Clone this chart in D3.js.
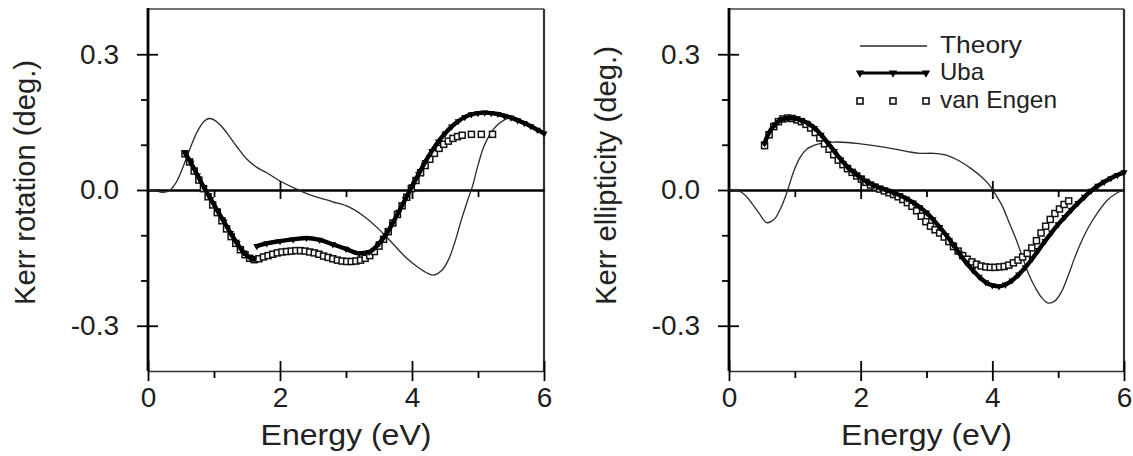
<!DOCTYPE html>
<html lang="en">
<head>
<meta charset="UTF-8">
<title>Kerr spectra</title>
<style>
body{margin:0;background:#fff;}
text{font-family:"Liberation Sans",Arial,Helvetica,sans-serif;}
</style>
</head>
<body>
<script src="https://d3js.org/d3.v7.min.js"></script>
<script>
// ---- data (energy in eV, angle in deg.) ----
// left panel: Kerr rotation
var theoryRotE = [0,0.1,0.22,0.32,0.42,0.5,0.58,0.66,0.75,0.85,0.93,1.0,1.1,1.2,1.35,1.5,1.65,1.8,2.0,2.25,2.5,2.8,3.05,3.25,3.5,3.7,3.9,4.1,4.25,4.33,4.45,4.55,4.65,4.75,4.85,4.92,5.0,5.1,5.25,5.4,5.55,5.7,5.85,6.0];
var theoryRot  = [0,-0.001,-0.005,-0.002,0.015,0.04,0.07,0.1,0.13,0.152,0.158,0.155,0.143,0.125,0.095,0.068,0.05,0.038,0.02,0.002,-0.013,-0.026,-0.038,-0.056,-0.087,-0.117,-0.148,-0.172,-0.185,-0.188,-0.178,-0.155,-0.115,-0.065,-0.02,0.01,0.055,0.1,0.137,0.155,0.16,0.15,0.14,0.127];

// Uba: two measured ranges (null = gap)
var ubaRotE = [0.56,0.65,0.75,0.85,0.95,1.05,1.15,1.25,1.35,1.45,1.55,1.6,1.62,1.65,1.8,2.0,2.2,2.4,2.6,2.8,3.0,3.2,3.35,3.5,3.6,3.7,3.8,3.9,4.0,4.1,4.2,4.3,4.4,4.5,4.6,4.7,4.8,4.9,5.0,5.1,5.2,5.3,5.4,5.5,5.6,5.7,5.8,5.9,6.0];
var ubaRot  = [0.082,0.06,0.032,0.005,-0.02,-0.045,-0.07,-0.095,-0.118,-0.138,-0.15,-0.153,null,-0.124,-0.118,-0.113,-0.109,-0.106,-0.11,-0.12,-0.13,-0.14,-0.137,-0.118,-0.1,-0.075,-0.048,-0.02,0.008,0.035,0.062,0.086,0.107,0.125,0.14,0.152,0.161,0.167,0.17,0.171,0.17,0.168,0.164,0.16,0.154,0.148,0.141,0.133,0.125];

var vanRotE = [0.56,0.63,0.70,0.77,0.84,0.91,0.98,1.05,1.12,1.19,1.26,1.33,1.40,1.47,1.54,1.61,1.68,1.75,1.82,1.89,1.96,2.03,2.10,2.17,2.24,2.31,2.38,2.45,2.52,2.59,2.66,2.73,2.80,2.87,2.94,3.01,3.08,3.15,3.22,3.29,3.36,3.43,3.50,3.57,3.64,3.71,3.78,3.85,3.92,3.99,4.06,4.13,4.20,4.27,4.34,4.41,4.48,4.55,4.62,4.69,4.76,4.90,5.05,5.22];
var vanRot  = [0.08,0.062,0.042,0.022,0.003,-0.015,-0.033,-0.05,-0.068,-0.086,-0.103,-0.118,-0.132,-0.143,-0.151,-0.154,-0.152,-0.148,-0.145,-0.142,-0.139,-0.137,-0.136,-0.135,-0.134,-0.134,-0.135,-0.137,-0.139,-0.142,-0.146,-0.149,-0.152,-0.155,-0.157,-0.158,-0.158,-0.157,-0.155,-0.151,-0.145,-0.136,-0.124,-0.109,-0.092,-0.073,-0.054,-0.035,-0.016,0.003,0.021,0.038,0.054,0.068,0.081,0.092,0.101,0.108,0.114,0.118,0.121,0.123,0.123,0.123];

// right panel: Kerr ellipticity
var theoryEllE = [0,0.15,0.25,0.35,0.45,0.57,0.68,0.78,0.88,0.98,1.08,1.18,1.3,1.45,1.6,1.8,2.0,2.25,2.5,2.75,2.9,3.1,3.3,3.5,3.7,3.85,3.95,4.05,4.15,4.25,4.35,4.45,4.55,4.65,4.75,4.85,4.95,5.05,5.15,5.25,5.35,5.45,5.6,5.75,5.9,6.0];
var theoryEll  = [0,-0.002,-0.012,-0.03,-0.05,-0.072,-0.066,-0.042,-0.005,0.04,0.072,0.09,0.099,0.104,0.106,0.105,0.102,0.097,0.091,0.084,0.081,0.081,0.077,0.064,0.045,0.027,0.012,-0.01,-0.035,-0.07,-0.105,-0.145,-0.185,-0.215,-0.238,-0.25,-0.245,-0.225,-0.19,-0.15,-0.115,-0.085,-0.05,-0.022,-0.006,0];

var ubaEllE = [0.54,0.6,0.7,0.8,0.9,1.0,1.1,1.2,1.3,1.4,1.5,1.6,1.7,1.8,1.9,2.0,2.1,2.2,2.3,2.4,2.5,2.6,2.7,2.8,2.9,3.0,3.1,3.2,3.3,3.4,3.5,3.6,3.7,3.8,3.9,4.0,4.1,4.2,4.3,4.4,4.5,4.6,4.7,4.8,4.9,5.0,5.1,5.2,5.3,5.4,5.5,5.6,5.7,5.8,5.9,6.0];
var ubaEll  = [0.103,0.125,0.145,0.156,0.159,0.158,0.154,0.147,0.137,0.122,0.104,0.086,0.067,0.051,0.038,0.027,0.017,0.01,0.004,-0.001,-0.006,-0.012,-0.019,-0.028,-0.038,-0.05,-0.065,-0.082,-0.1,-0.12,-0.14,-0.16,-0.177,-0.192,-0.204,-0.211,-0.213,-0.209,-0.2,-0.187,-0.171,-0.153,-0.133,-0.113,-0.094,-0.076,-0.06,-0.044,-0.029,-0.015,-0.002,0.009,0.018,0.026,0.033,0.039];

var vanEllE = [0.54,0.61,0.68,0.75,0.82,0.89,0.96,1.03,1.10,1.17,1.24,1.31,1.38,1.45,1.52,1.59,1.66,1.73,1.80,1.87,1.94,2.01,2.08,2.15,2.22,2.29,2.36,2.43,2.50,2.57,2.64,2.71,2.78,2.85,2.92,2.99,3.06,3.13,3.20,3.27,3.34,3.41,3.48,3.55,3.62,3.69,3.76,3.83,3.90,3.97,4.04,4.11,4.18,4.25,4.32,4.39,4.46,4.53,4.60,4.67,4.74,4.81,4.88,4.95,5.02,5.09,5.16];
var vanEll  = [0.098,0.122,0.14,0.151,0.157,0.159,0.158,0.155,0.151,0.145,0.137,0.127,0.115,0.102,0.09,0.078,0.066,0.056,0.047,0.039,0.031,0.024,0.017,0.011,0.006,0.002,-0.002,-0.006,-0.01,-0.015,-0.021,-0.028,-0.036,-0.046,-0.058,-0.07,-0.08,-0.088,-0.095,-0.104,-0.114,-0.125,-0.135,-0.145,-0.153,-0.159,-0.164,-0.168,-0.17,-0.171,-0.171,-0.17,-0.169,-0.166,-0.161,-0.155,-0.148,-0.14,-0.128,-0.112,-0.095,-0.08,-0.065,-0.052,-0.042,-0.032,-0.024];

var xMajor = [0,2,4,6];
var xMinor = [1,3,5];
var yMajor = [-0.3,0,0.3];
var yMinor = [-0.2,-0.1,0.1,0.2];
var seriesNames = ["Theory","Uba","van Engen"];

var W = 1133, H = 456;
var top0 = 9, bottom0 = 371;
var svg = d3.select("body").append("svg").attr("width",W).attr("height",H);

function zip(xs, ys){
	var out = [];
	for(var i=0;i<xs.length;i++) out.push([xs[i], ys[i]]);
	return out;
}

function drawPanel(left, right, yTitle, yTitleLen, th, ub, va){
	var x = d3.scaleLinear().domain([0,6]).range([left,right]);
	var y = d3.scaleLinear().domain([-0.4,0.4]).range([bottom0,top0]);
	var g = svg.append("g");

	// frame (top / right lighter than the left axis)
	g.append("line").attr("x1",left).attr("x2",right).attr("y1",top0).attr("y2",top0).attr("stroke","#444").attr("stroke-width",1.6);
	g.append("line").attr("x1",right).attr("x2",right).attr("y1",top0).attr("y2",bottom0).attr("stroke","#333").attr("stroke-width",2.2);

	// y axis: labels + outward major, inward major, outward minor
	var ya = g.append("g").attr("transform","translate("+left+",0)")
		.call(d3.axisLeft(y).tickValues(yMajor).tickSize(11).tickSizeOuter(0).tickPadding(18)
			.tickFormat(function(d){return d3.format(".1f")(d).replace("−","-");}));
	ya.select(".domain").remove();
	ya.selectAll("text").attr("font-size",28).attr("fill","#1e1e1e").attr("font-family",null);
	var yi = g.append("g").attr("transform","translate("+left+",0)")
		.call(d3.axisRight(y).tickValues(yMajor).tickSize(10).tickFormat(""));
	yi.select(".domain").remove();
	var ym = g.append("g").attr("transform","translate("+left+",0)")
		.call(d3.axisLeft(y).tickValues(yMinor).tickSize(7).tickFormat(""));
	ym.select(".domain").remove();

	// x axis at the bottom
	var xa = g.append("g").attr("transform","translate(0,"+bottom0+")")
		.call(d3.axisBottom(x).tickValues(xMajor).tickFormat(d3.format("d")).tickSize(10).tickSizeOuter(0).tickPadding(6));
	xa.select(".domain").attr("stroke","#333").attr("stroke-width",1.6);
	xa.selectAll("text").attr("font-size",28).attr("fill","#1e1e1e").attr("font-family",null);
	var xi = g.append("g").attr("transform","translate(0,"+bottom0+")")
		.call(d3.axisTop(x).tickValues(xMajor).tickSize(10).tickFormat(""));
	xi.select(".domain").remove();
	var xm = g.append("g").attr("transform","translate(0,"+bottom0+")")
		.call(d3.axisBottom(x).tickValues(xMinor).tickSize(7).tickFormat(""));
	xm.select(".domain").remove();

	// zero line with its own ticks
	var z0 = g.append("g").attr("transform","translate(0,"+y(0)+")")
		.call(d3.axisBottom(x).tickValues([2,4]).tickSize(9).tickSizeOuter(0).tickFormat(""));
	z0.select(".domain").attr("stroke","#000").attr("stroke-width",2.4);
	g.append("g").attr("transform","translate(0,"+y(0)+")")
		.call(d3.axisTop(x).tickValues([2,4]).tickSize(9).tickFormat("")).select(".domain").remove();
	g.append("g").attr("transform","translate(0,"+y(0)+")")
		.call(d3.axisBottom(x).tickValues(xMinor).tickSize(7).tickFormat("")).select(".domain").remove();

	// left axis line on top of the frame
	g.append("line").attr("x1",left).attr("x2",left).attr("y1",top0-1).attr("y2",bottom0).attr("stroke","#000").attr("stroke-width",2.8);
	g.selectAll(".tick line").attr("stroke","#000").attr("stroke-width",1.8);

	// titles
	g.append("text").attr("x",(left+right)/2).attr("y",445).attr("text-anchor","middle")
		.attr("font-size",29).attr("fill","#222").attr("textLength",171).attr("lengthAdjust","spacingAndGlyphs")
		.text("Energy (eV)");
	g.append("text").attr("transform","translate("+(left-113)+",305) rotate(-90)")
		.attr("font-size",29).attr("fill","#222").attr("textLength",yTitleLen).attr("lengthAdjust","spacingAndGlyphs")
		.text(yTitle);

	// series
	var line = d3.line().x(function(d){return x(d[0]);}).y(function(d){return y(d[1]);});
	g.append("path").datum(zip(th[0],th[1]))
		.attr("d",line.curve(d3.curveCatmullRom))
		.attr("fill","none").attr("stroke","#2a2a2a").attr("stroke-width",1.3);

	var vd = zip(va[0],va[1]);
	g.selectAll(".van").data(vd).enter().append("rect").attr("class","van")
		.attr("x",function(d){return x(d[0])-3;}).attr("y",function(d){return y(d[1])-3;})
		.attr("width",6).attr("height",6)
		.attr("fill","#fff").attr("stroke","#111").attr("stroke-width",1.5);

	var ud = zip(ub[0],ub[1]);
	var uline = d3.line().defined(function(d){return d[1]!==null;})
		.x(function(d){return x(d[0]);}).y(function(d){return y(d[1]);}).curve(d3.curveMonotoneX);
	g.append("path").datum(ud).attr("d",uline)
		.attr("fill","none").attr("stroke","#000").attr("stroke-width",4.4).attr("stroke-linecap","round");
	var tri = d3.symbol().type(d3.symbolTriangle).size(22);
	g.selectAll(".uba").data(ud.filter(function(d){return d[1]!==null;})).enter().append("path").attr("class","uba")
		.attr("d",tri)
		.attr("transform",function(d){return "translate("+x(d[0])+","+y(d[1])+") rotate(180)";})
		.attr("fill","#000");
	return g;
}

drawPanel(148, 544, "Kerr rotation (deg.)", 245,
	[theoryRotE,theoryRot],[ubaRotE,ubaRot],[vanRotE,vanRot]);
var gr = drawPanel(729, 1124, "Kerr ellipticity (deg.)", 259,
	[theoryEllE,theoryEll],[ubaEllE,ubaEll],[vanEllE,vanEll]);

// legend (right panel)
var lg = gr.append("g").attr("transform","translate(860,0)");
var legY = [46,73,101];
lg.append("line").attr("x1",0).attr("x2",67).attr("y1",legY[0]).attr("y2",legY[0]).attr("stroke","#2a2a2a").attr("stroke-width",1.3);
lg.append("line").attr("x1",0).attr("x2",66).attr("y1",legY[1]).attr("y2",legY[1]).attr("stroke","#000").attr("stroke-width",2.8);
[0,33,66].forEach(function(dx){
	lg.append("path").attr("d",d3.symbol().type(d3.symbolTriangle).size(30))
		.attr("transform","translate("+dx+","+legY[1]+") rotate(180)").attr("fill","#000");
	lg.append("rect").attr("x",dx-3).attr("y",legY[2]-3).attr("width",6).attr("height",6)
		.attr("fill","#fff").attr("stroke","#111").attr("stroke-width",1.6);
});
lg.selectAll(".lt").data(seriesNames).enter().append("text").attr("class","lt")
	.attr("x",80).attr("y",function(d,i){return legY[i]+7;})
	.attr("font-size",24).attr("fill","#222")
	.attr("textLength",function(d,i){return [82,44,117][i];}).attr("lengthAdjust","spacingAndGlyphs")
	.text(function(d){return d;});
</script>
</body>
</html>
